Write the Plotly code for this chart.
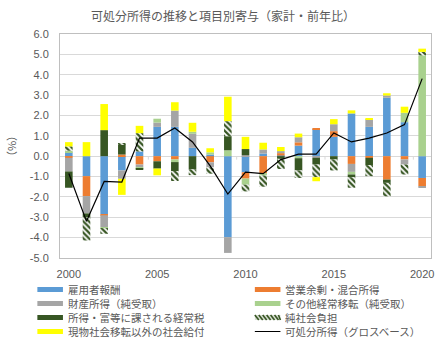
import plotly.graph_objects as go

years = list(range(2000, 2021))

compensation = [0.19, -0.98, -2.85, -0.70, 0.23, 1.44, 1.44, 0.41, 0.08, -3.98, -0.79,
                0.13, 0.03, 0.52, 1.33, 0.95, 2.10, 1.44, 2.87, 1.67, -1.07]
operating_surplus = [-0.08, -0.98, -0.05, 0.08, -0.41, -0.25, -0.16, 0.0, -0.30, 0.0, -0.31,
                     -0.83, 0.12, 0.16, 0.03, 0.28, -0.38, -0.08, -1.15, -0.16, -0.41]
property_income = [-0.67, -0.85, -0.58, -0.41, -0.13, 0.21, 0.80, 0.69, -0.25, -0.77, 0.05,
                   0.20, 0.10, 0.25, -0.08, 0.34, -0.39, 0.38, 0.11, -0.25, -0.05]
other_transfers = [0.08, 0.0, -0.05, 0.0, -0.05, 0.19, -0.13, 0.10, 0.11, 0.29, -0.30,
                   -0.12, 0.0, -0.10, 0.0, 0.0, -0.13, 0.0, 0.0, 0.46, 4.95]
current_taxes = [-0.80, -0.18, 1.28, 0.49, -0.07, -0.36, -0.44, -0.65, 0.0, 0.69, 0.30,
                 0.0, -0.13, -0.60, -0.33, -0.16, -0.13, -0.36, -0.16, 0.0, 0.0]
social_contrib = [0.21, -1.15, -0.28, 0.05, 0.90, 0.0, -0.49, -0.28, -0.31, 0.74, -0.33,
                  -0.55, -0.50, -0.37, -0.62, -0.54, -0.52, -0.54, -0.66, -0.49, 0.17]
social_benefits = [0.21, 0.69, 1.28, -0.79, 0.36, -0.33, 0.41, 0.44, 0.20, 1.20, 0.60,
                   0.33, 0.20, 0.18, -0.20, 0.25, 0.15, 0.05, 0.11, 0.30, 0.16]
disposable_income = [-0.85, -3.20, -1.24, -1.27, 0.89, 0.89, 1.38, 0.70, -0.48, -1.86, -0.78,
                     -0.86, -0.17, 0.10, 0.10, 1.14, 0.70, 0.89, 1.14, 1.55, 3.81]

bar_names = ["雇用者報酬", "営業余剰・混合所得", "財産所得（純受取）", "その他経常移転（純受取）",
             "所得・富等に課される経常税", "純社会負担", "現物社会移転以外の社会給付"]
line_name = "可処分所得（グロスベース）"
bar_colors = ["#5B9BD5", "#ED7D31", "#A5A5A5", "#A9D18E", "#375623", "#375623", "#FFFF00"]
bar_series = [compensation, operating_surplus, property_income, other_transfers,
              current_taxes, social_contrib, social_benefits]

y_ticks = list(range(-5, 7))
x_ticks = [2000, 2005, 2010, 2015, 2020]
minor_ticks = [2004.5, 2009.5, 2014.5, 2019.5]

TXT = "#595959"
JP = "Noto Sans CJK JP"
NUM = "Liberation Sans"

fig = go.Figure()
for name, color, vals in zip(bar_names, bar_colors, bar_series):
    marker = dict(color=color, line=dict(width=0))
    if name == "純社会負担":
        marker = dict(color="#375623", line=dict(width=0),
                      pattern=dict(shape="\\", fgcolor="#375623", bgcolor="white",
                                   size=4, solidity=0.55, fillmode="replace"))
    fig.add_trace(go.Bar(x=years, y=vals, name=name, marker=marker, width=0.43,
                         showlegend=False))
fig.add_trace(go.Scatter(x=years, y=disposable_income, name=line_name, mode="lines",
                         line=dict(color="black", width=1.2), showlegend=False))

L, R, T, B = 56, 433, 34, 258
W, H = 446, 340


def px(x):
    return (x - L) / (R - L)


def py(y):
    return (B - y) / (B - T)


shapes = []
annotations = []

# small category tick marks on the zero line
for xt in minor_ticks:
    shapes.append(dict(type="line", xref="x", yref="y", x0=xt, x1=xt, y0=0, y1=-0.17,
                       line=dict(color="#D9D9D9", width=1)))

# manual legend (two columns, four rows)
legend_names = bar_names + [line_name]
legend_colors = bar_colors + ["black"]
row_y = [289.5, 303.5, 317.5, 331.5]
col_x = [33, 254]
for i, (nm, col) in enumerate(zip(legend_names, legend_colors)):
    cx = col_x[i % 2]
    ry = row_y[i // 2]
    if nm == line_name:
        shapes.append(dict(type="line", xref="paper", yref="paper",
                           x0=px(cx), x1=px(cx + 26), y0=py(ry), y1=py(ry),
                           line=dict(color="black", width=1)))
    elif nm == "純社会負担":
        shapes.append(dict(type="rect", xref="paper", yref="paper",
                           x0=px(cx), x1=px(cx + 26), y0=py(ry + 2.5), y1=py(ry - 2.5),
                           fillcolor="#D7DDD2", line=dict(width=0)))
        for k in range(7):
            x0 = cx + k * 4
            shapes.append(dict(type="line", xref="paper", yref="paper",
                               x0=px(x0), x1=px(min(x0 + 4, cx + 26)),
                               y0=py(ry - 2.5), y1=py(ry + 2.5),
                               line=dict(color="#375623", width=1.6)))
    else:
        shapes.append(dict(type="rect", xref="paper", yref="paper",
                           x0=px(cx), x1=px(cx + 26), y0=py(ry + 2.5), y1=py(ry - 2.5),
                           fillcolor=col, line=dict(width=0)))
    annotations.append(dict(text=nm, xref="paper", yref="paper", x=px(cx + 29), y=py(ry),
                            xanchor="left", yanchor="middle", showarrow=False,
                            height=13, valign="middle",
                            font=dict(family=JP, size=10.5, color=TXT)))

fig.update_layout(
    width=W, height=H,
    margin=dict(l=L, r=W - R, t=T, b=H - B, pad=0),
    paper_bgcolor="white", plot_bgcolor="white",
    barmode="relative",
    title=dict(text="可処分所得の推移と項目別寄与（家計・前年比）", x=0.5, xanchor="center",
               y=1 - 16.5 / H, yanchor="middle", yref="container",
               font=dict(family=JP, size=12, color=TXT)),
    xaxis=dict(range=[1999.5, 2020.5], tickvals=x_ticks, ticktext=[str(v) for v in x_ticks],
               showgrid=False, zeroline=False, showline=True, mirror=True,
               linecolor="#BFBFBF", linewidth=1, ticks="", ticklabelstandoff=6,
               tickfont=dict(family=NUM, size=11, color=TXT)),
    yaxis=dict(range=[-5, 6], tickvals=y_ticks, ticktext=[f"{v:.1f}" for v in y_ticks],
               showgrid=True, gridcolor="#D9D9D9", gridwidth=1, zeroline=False,
               showline=True, mirror=True, linecolor="#BFBFBF", linewidth=1,
               ticks="", ticklabelstandoff=8,
               tickfont=dict(family=NUM, size=11, color=TXT),
               title=dict(text="（%）", standoff=10, font=dict(family=JP, size=11, color=TXT))),
    shapes=shapes, annotations=annotations,
)

fig.write_html("out.html")
